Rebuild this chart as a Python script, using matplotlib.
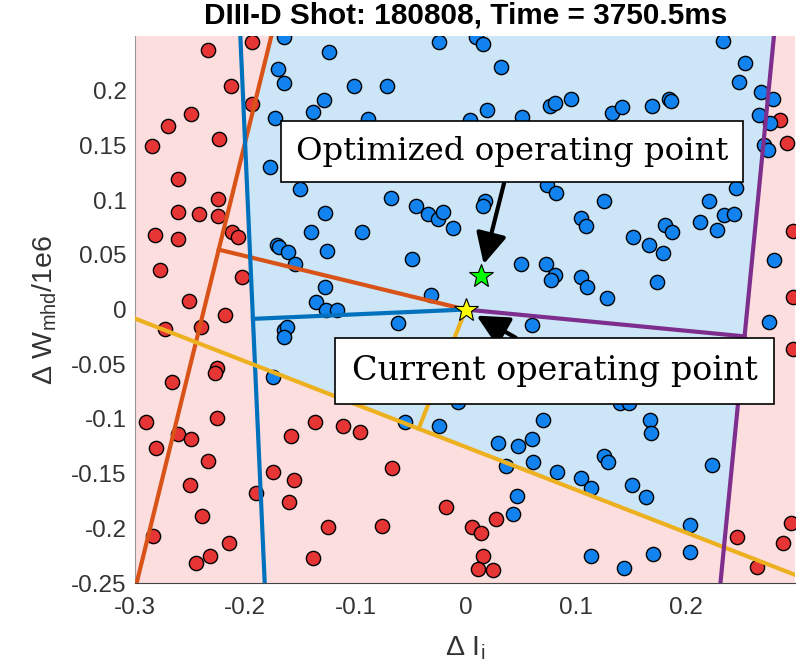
import matplotlib
matplotlib.use('Agg')
import matplotlib.pyplot as plt
import numpy as np

plt.rcParams['font.family'] = ['Liberation Sans', 'DejaVu Sans']
plt.rcParams['mathtext.fontset'] = 'custom'
plt.rcParams['mathtext.rm'] = 'Liberation Sans'

# 샘플 점 (빨강 = 불가능, 파랑 = 가능)
red_x = [-0.1935, -0.2338, -0.2126, -0.1938, -0.2495, -0.2701, -0.2238, -0.2847, -0.2610, -0.2247,
         -0.2610, -0.2422, -0.2247, -0.2817, -0.2610, -0.2120, -0.2065, -0.2771, -0.2029, -0.2513,
         -0.2186, -0.2731, -0.2404, -0.2253, -0.2271, -0.2662, -0.2898, -0.2253, -0.2610, -0.2489,
         -0.2808, -0.2338, -0.2499, -0.2390, -0.2838, -0.2147, -0.2322, -0.2444, -0.1899, -0.1369,
         -0.1586, -0.1111, -0.0960, -0.1747, -0.1559, -0.1602, -0.1247, -0.1384, -0.0672, -0.0182,
         -0.0757, 0.0061, 0.0136, 0.0276, 0.0161, 0.0109, 0.0252, 0.2853, 0.2914, 0.2966,
         0.2966, 0.2968, 0.2457, 0.2947, 0.2880, 0.2639]
red_y = [0.2442, 0.2372, 0.2043, 0.1878, 0.1784, 0.1675, 0.1556, 0.1495, 0.1196, 0.1007,
         0.0891, 0.0870, 0.0855, 0.0684, 0.0644, 0.0708, 0.0660, 0.0361, 0.0300, 0.0080,
         -0.0050, -0.0178, -0.0163, -0.0532, -0.0578, -0.0666, -0.1025, -0.0995, -0.1141, -0.1186,
         -0.1269, -0.1382, -0.1604, -0.1885, -0.2070, -0.2137, -0.2250, -0.2314, -0.1680, -0.1025,
         -0.1156, -0.1062, -0.1123, -0.1488, -0.1558, -0.1763, -0.1985, -0.2268, -0.1452, -0.1808,
         -0.1976, -0.1991, -0.2040, -0.1915, -0.2253, -0.2375, -0.2381, 0.1732, 0.1525, 0.0718,
         0.0117, -0.0364, -0.2076, -0.1949, -0.2132, -0.2351]

blue_x = [-0.1650, -0.1238, -0.1702, -0.1650, -0.1014, -0.1287, -0.1384, -0.1732, -0.1777, -0.1505,
          -0.1278, -0.1399, -0.1711, -0.1696, -0.1611, -0.1544, -0.1254, -0.1272, -0.1359, -0.1263,
          -0.1163, -0.0940, -0.0239, 0.0091, 0.0161, 0.0322, -0.0718, 0.0191, 0.0767, 0.0812,
          0.0954, -0.0884, 0.0040, 0.0509, 0.0736, 0.0818, -0.0678, -0.0454, -0.0339, -0.0254,
          -0.0209, -0.0118, 0.0176, 0.0155, -0.0484, -0.0314, 0.0500, 0.0730, 0.0812, 0.0772,
          0.1330, 0.1421, 0.1694, 0.1844, 0.1860, 0.2330, 0.2535, 0.2481, 0.2678, 0.2784,
          0.2657, 0.2763, 0.2708, 0.2744, 0.2450, 0.2208, 0.2344, 0.2430, 0.2126, 0.2278,
          0.1521, 0.1663, 0.1794, 0.1805, 0.1875, 0.1254, 0.1048, 0.1094, 0.1042, 0.1103,
          0.1285, 0.1733, 0.2793, -0.1652, -0.1622, -0.1647, -0.0614, -0.1744, -0.0548, -0.0245,
          0.0600, -0.0066, 0.0700, 0.0291, 0.0479, 0.0600, 0.0615, 0.0367, 0.0827, 0.0463,
          0.0433, 0.2750, 0.1403, 0.1478, 0.1675, 0.1681, 0.1251, 0.1288, 0.2235, 0.1045,
          0.1136, 0.1508, 0.1639, 0.2033, 0.1139, 0.1433, 0.1696, 0.2033]
blue_y = [0.2488, 0.2351, 0.2198, 0.2068, 0.2043, 0.1915, 0.1808, 0.1748, 0.1306, 0.1099,
          0.0885, 0.0711, 0.0590, 0.0568, 0.0528, 0.0413, 0.0535, 0.0203, 0.0071, -0.0005,
          -0.0005, 0.0711, 0.2448, 0.2494, 0.2427, 0.2219, 0.2043, 0.1824, 0.1860, 0.1890,
          0.1921, 0.1739, 0.1732, 0.1757, 0.1138, 0.1068, 0.1016, 0.0949, 0.0873, 0.0827,
          0.0888, 0.0742, 0.0994, 0.0949, 0.0459, 0.0133, 0.0416, 0.0413, 0.0315, 0.0270,
          0.1793, 0.1854, 0.1860, 0.1921, 0.1906, 0.2457, 0.2250, 0.2082, 0.1991, 0.1924,
          0.1778, 0.1702, 0.1504, 0.1458, 0.1108, 0.0995, 0.0864, 0.0873, 0.0803, 0.0727,
          0.0666, 0.0590, 0.0519, 0.0772, 0.0711, 0.0992, 0.0834, 0.0763, 0.0294, 0.0208,
          0.0102, 0.0249, 0.0452, -0.0187, -0.0157, -0.0249, -0.0121, -0.0614, -0.1031, -0.1065,
          -0.0142, -0.0848, -0.1010, -0.1218, -0.1245, -0.1186, -0.1391, -0.1428, -0.1488, -0.1702,
          -0.1869, -0.0117, -0.0857, -0.0857, -0.1010, -0.1132, -0.1336, -0.1397, -0.1421, -0.1543,
          -0.1629, -0.1604, -0.1711, -0.1970, -0.2250, -0.2366, -0.2235, -0.2220]

# 제약 직선 (양 끝점)
lines = {
    '#D95319': [(-0.2985, -0.25), (-0.1763, 0.25)],
    '#0072BD': [(-0.2044, 0.2494), (-0.1823, -0.2503)],
    '#EDB120': [(-0.2989, -0.0087), (0.2977, -0.2421)],
    '#7E2F8E': [(0.2796, 0.2494), (0.2311, -0.2503)],
}

cur_pt = (0.0, 0.0)      # 현재 운전점
opt_pt = (0.0136, 0.0304)  # 최적 운전점

xticks = [-0.3, -0.2, -0.1, 0, 0.1, 0.2]
xticklabels = ['-0.3', '-0.2', '-0.1', '0', '0.1', '0.2']
yticks = [-0.25, -0.2, -0.15, -0.1, -0.05, 0, 0.05, 0.1, 0.15, 0.2]
yticklabels = ['-0.25', '-0.2', '-0.15', '-0.1', '-0.05', '0', '0.05', '0.1', '0.15', '0.2']

X0, X1 = -0.3, 0.2987
Y0, Y1 = -0.25, 0.25


def side(p, a, b):
    return (b[0] - a[0]) * (p[1] - a[1]) - (b[1] - a[1]) * (p[0] - a[0])


# 다각형을 직선으로 자르기 (ref 쪽만 남김)
def clip_poly(poly, a, b, ref):
    s = np.sign(side(ref, a, b))
    out = []
    n = len(poly)
    for i in range(n):
        c = poly[i]
        d = poly[(i + 1) % n]
        sc = side(c, a, b) * s
        sd = side(d, a, b) * s
        if sc >= 0:
            out.append(c)
        if sc * sd < 0:
            t = sc / (sc - sd)
            out.append((c[0] + t * (d[0] - c[0]), c[1] + t * (d[1] - c[1])))
    return out


# 점에서 직선으로 내린 수선의 발
def foot(p, a, b):
    a = np.array(a)
    d = np.array(b) - a
    t = np.dot(np.array(p) - a, d) / np.dot(d, d)
    return a + t * d


def on_edge(p):
    return min(abs(p[0] - X0), abs(p[0] - X1), abs(p[1] - Y0), abs(p[1] - Y1)) < 1e-6


fig = plt.figure(figsize=(8.02, 6.66), dpi=100)
ax = fig.add_axes([0.1683, 0.1246, 0.8229, 0.8213])
ax.set_facecolor('#FDDEDF')

# 가능 영역
region = [(X0, Y0), (X1, Y0), (X1, Y1), (X0, Y1)]
for c, (a, b) in lines.items():
    region = clip_poly(region, a, b, cur_pt)
pts = np.array(region)
ax.fill(pts[:, 0], pts[:, 1], color='#CCE6F8', zorder=1)

# 경계선 (축 테두리 위는 빼고)
for i in range(len(region)):
    p = region[i]
    q = region[(i + 1) % len(region)]
    if on_edge(p) and on_edge(q) and (abs(p[0] - q[0]) < 1e-9 or abs(p[1] - q[1]) < 1e-9):
        continue
    ax.plot([p[0], q[0]], [p[1], q[1]], color='#222222', lw=1.0, ls=(0, (4, 3)), zorder=2)

ax.scatter(red_x, red_y, s=105, c='#E53535', edgecolors='k', linewidths=1.0, zorder=3)
ax.scatter(blue_x, blue_y, s=105, c='#1283EE', edgecolors='k', linewidths=1.0, zorder=3)

for c, (a, b) in lines.items():
    ax.plot([a[0], b[0]], [a[1], b[1]], color=c, lw=3, zorder=4)
    f = foot(cur_pt, a, b)
    ax.plot([cur_pt[0], f[0]], [cur_pt[1], f[1]], color=c, lw=3, zorder=4)

ax.plot(cur_pt[0], cur_pt[1], marker='*', ms=18, mfc='#FFFF00', mec='k', mew=0.8, zorder=6)
ax.plot(opt_pt[0], opt_pt[1], marker='*', ms=18, mfc='#00FF00', mec='k', mew=0.8, zorder=6)

arrow = dict(arrowstyle='-|>,head_length=0.8,head_width=0.4', color='k', lw=3,
             shrinkA=0, shrinkB=9)
ax.annotate('Optimized operating point', xy=opt_pt, xytext=(0.042, 0.1444),
            ha='center', va='center', fontsize=23.3, family='DejaVu Serif',
            bbox=dict(boxstyle='square,pad=0.47', fc='white', ec='k', lw=1.2),
            arrowprops=arrow, zorder=7)
ax.annotate('Current operating point', xy=cur_pt, xytext=(0.0806, -0.0562),
            ha='center', va='center', fontsize=24, family='DejaVu Serif',
            bbox=dict(boxstyle='square,pad=0.5', fc='white', ec='k', lw=1.2),
            arrowprops=dict(arrow, relpos=(0.55, 0.5)), zorder=7)

ax.set_xlim(X0, X1)
ax.set_ylim(Y0, Y1)
ax.set_xticks(xticks)
ax.set_xticklabels(xticklabels)
ax.set_yticks(yticks)
ax.set_yticklabels(yticklabels)
ax.tick_params(length=0, labelsize=17.5, colors='#333333')
ax.tick_params(axis='y', pad=6)
ax.tick_params(axis='x', pad=10)
for s in ['top', 'right']:
    ax.spines[s].set_visible(False)
ax.spines['left'].set_color('#999999')
ax.spines['bottom'].set_color('#444444')

ax.set_xlabel('Δ I$_{\\mathrm{i}}$', fontsize=20.5, color='#333333', labelpad=11)
ax.set_ylabel('Δ W$_{\\mathrm{mhd}}$/1e6', fontsize=20.5, color='#333333', labelpad=9)
fig.text(466 / 802, 1 - 15 / 666, 'DIII-D Shot: 180808, Time = 3750.5ms',
         ha='center', va='center', fontsize=21.4, fontweight='bold')

plt.savefig('out.png', dpi=100)
